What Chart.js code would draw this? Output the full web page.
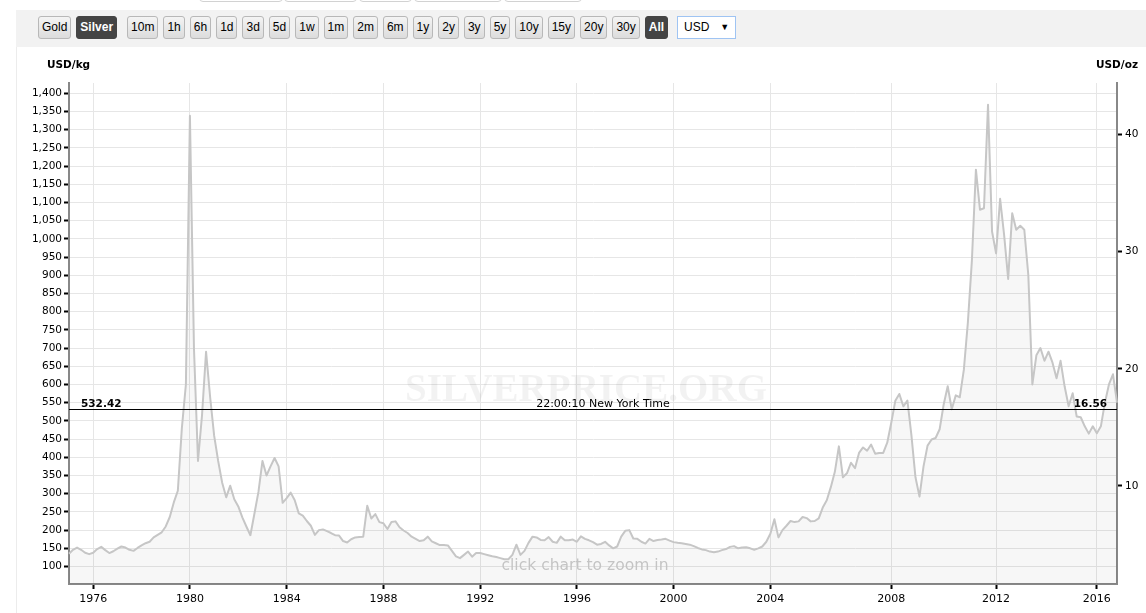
<!DOCTYPE html>
<html>
<head>
<meta charset="utf-8">
<script src="https://cdn.jsdelivr.net/npm/chart.js@4"></script>
<style>
html, body { margin: 0; padding: 0; background: #fff; }
body { width: 1146px; height: 613px; overflow: hidden; position: relative; font-family: "Liberation Sans", Arial, sans-serif; }
#chart { position: absolute; left: 0; top: 0; }
.tab { position: absolute; top: -20px; height: 22px; border: 1px solid #d2d2d2; border-radius: 4px; background: #fff; box-sizing: border-box; }
#bar { position: absolute; left: 16px; top: 10px; right: 0; height: 37px; background: #f2f2f2; }
#side { position: absolute; left: 16px; top: 47px; bottom: 0; width: 1px; background: #ececec; }
#buttons { position: absolute; left: 38px; top: 16px; display: flex; gap: 5px; }
.btn { height: 23px; box-sizing: border-box; padding: 0 3px; border: 1px solid #b8b8b8; border-radius: 3px;
       background: linear-gradient(#f4f4f4, #dcdcdc); font-size: 12px; line-height: 21px; color: #000; }
.btn.on { background: #444; border-color: #444; color: #fff; font-weight: bold; }
.gap { margin-right: 5px; }
#cur { margin-left: 4px; width: 59px; height: 23px; box-sizing: border-box; border: 1px solid #9fc4f3; background: #fff;
       font-size: 12px; line-height: 21px; padding-left: 6px; position: relative; color: #000; }
#cur span { position: absolute; right: 6px; top: 0; font-size: 9px; }
</style>
</head>
<body>
<canvas id="chart" width="1146" height="613"></canvas>
<div class="tab" style="left:199px;width:84px"></div>
<div class="tab" style="left:284px;width:73px"></div>
<div class="tab" style="left:359px;width:53px"></div>
<div class="tab" style="left:414px;width:88px"></div>
<div class="tab" style="left:504px;width:78px"></div>
<div id="bar"></div>
<div id="side"></div>
<div id="buttons">
  <div class="btn">Gold</div><div class="btn on gap">Silver</div>
  <div class="btn">10m</div><div class="btn">1h</div><div class="btn">6h</div><div class="btn">1d</div>
  <div class="btn">3d</div><div class="btn">5d</div><div class="btn">1w</div><div class="btn">1m</div>
  <div class="btn">2m</div><div class="btn">6m</div><div class="btn">1y</div><div class="btn">2y</div>
  <div class="btn">3y</div><div class="btn">5y</div><div class="btn">10y</div><div class="btn">15y</div>
  <div class="btn">20y</div><div class="btn">30y</div><div class="btn on">All</div>
  <div id="cur">USD<span>&#9660;</span></div>
</div>
<script>
// silver price, USD per kg; one row per year, number of samples per year follows the source feed
const firstYear = 1975;
const usdPerKgByYear = [
  [135, 146, 152, 146, 138, 134],          // 1975
  [138, 148, 154, 145, 137, 142],          // 1976
  [149, 155, 152, 146, 143, 151],          // 1977
  [158, 164, 168, 180, 187, 194],          // 1978
  [210, 236, 276, 308, 480, 600],          // 1979
  [1338, 700, 390, 515, 690, 567],         // 1980
  [460, 390, 330, 290, 322, 285],          // 1981
  [265, 235, 210, 186, 245, 305],          // 1982
  [390, 350, 375, 398, 375, 275],          // 1983
  [288, 303, 282, 246, 240, 225],          // 1984
  [212, 187, 200, 202, 197, 192],          // 1985
  [186, 185, 170, 166, 175, 180],          // 1986
  [181, 182, 267, 232, 244, 222],          // 1987
  [219, 203, 222, 224, 208, 199],          // 1988
  [192, 182, 176, 170, 172, 182],          // 1989
  [169, 164, 159, 159, 158, 143],          // 1990
  [128, 123, 132, 141, 127, 137],          // 1991
  [137, 134, 131, 128, 126, 123],          // 1992
  [120, 120, 132, 160, 132, 143],          // 1993
  [165, 182, 180, 173, 172, 181],          // 1994
  [168, 165, 182, 172, 172, 174],          // 1995
  [168, 183, 176, 172, 167, 160],          // 1996
  [162, 168, 158, 150, 155, 182],          // 1997
  [198, 200, 177, 176, 168, 163],          // 1998
  [176, 170, 173, 174, 176, 171],          // 1999
  [167, 165, 164, 162, 160, 156],          // 2000
  [151, 147, 145, 141, 139, 141],          // 2001
  [145, 148, 154, 156, 150, 152],          // 2002
  [153, 150, 146, 150, 155, 168],          // 2003
  [190, 230, 180, 200, 212, 225, 222, 224],// 2004
  [236, 233, 224, 225, 232, 262, 282],     // 2005
  [318, 360, 430, 345, 356, 385, 370, 412],// 2006
  [427, 418, 435, 410, 412, 412, 440],     // 2007
  [495, 555, 574, 540, 556, 460, 345],     // 2008
  [292, 375, 432, 449, 453, 477],          // 2009
  [545, 595, 532, 570, 565, 640, 770],     // 2010
  [940, 1190, 1080, 1084, 1368, 1020],     // 2011
  [960, 1110, 1010, 890, 1070, 1025, 1036],// 2012
  [1025, 900, 600, 680, 700, 665],         // 2013
  [690, 660, 617, 665, 595, 540],          // 2014
  [576, 512, 510, 485, 465, 485],          // 2015
  [466, 485, 550, 600, 628, 550]           // 2016
];
const yearTicks = [1976, 1980, 1984, 1988, 1992, 1996, 2000, 2004, 2008, 2012, 2016];
const kgTicks = [100, 150, 200, 250, 300, 350, 400, 450, 500, 550, 600, 650, 700, 750, 800,
                 850, 900, 950, 1000, 1050, 1100, 1150, 1200, 1250, 1300, 1350, 1400];
const ozTicks = [10, 20, 30, 40];
const ozPerKg = 32.1507;
const kgMin = 52, kgMax = 1428;
const spotPrice = 532.42;
const spotTime = "22:00:10 New York Time";
const watermark = "SILVERPRICE.ORG";
const zoomHint = "click chart to zoom in";

const labels = [], values = [], firstIndex = {};
usdPerKgByYear.forEach((row, k) => {
  const year = firstYear + k;
  firstIndex[year] = values.length;
  row.forEach(v => { labels.push(String(year)); values.push(v); });
});

Chart.defaults.font.family = "'DejaVu Sans', sans-serif";
Chart.defaults.color = "#000";

const overlay = {
  id: "overlay",
  beforeDatasetsDraw(chart) {
    const ctx = chart.ctx;
    ctx.save();
    ctx.font = "bold 41px 'Liberation Serif', serif";
    ctx.fillStyle = "rgba(0,0,0,0.05)";
    ctx.textAlign = "center";
    ctx.textBaseline = "alphabetic";
    ctx.fillText(watermark, 586, 401, 362);
    ctx.restore();
  },
  afterDatasetsDraw(chart) {
    const ctx = chart.ctx, a = chart.chartArea;
    const y = Math.round(chart.scales.y.getPixelForValue(spotPrice)) + 0.5;
    ctx.save();
    ctx.strokeStyle = "#000";
    ctx.lineWidth = 1;
    ctx.beginPath();
    ctx.moveTo(a.left, y);
    ctx.lineTo(a.right, y);
    ctx.stroke();
    ctx.fillStyle = "#000";
    ctx.textBaseline = "alphabetic";
    ctx.font = "bold 10.5px 'DejaVu Sans', sans-serif";
    ctx.textAlign = "left";
    ctx.fillText(spotPrice.toFixed(2), a.left + 12, y - 3);
    ctx.textAlign = "right";
    ctx.fillText((spotPrice / ozPerKg).toFixed(2), a.right - 10, y - 3);
    ctx.font = "11px 'DejaVu Sans', sans-serif";
    ctx.textAlign = "center";
    ctx.fillText(spotTime, 603, y - 3);
    ctx.font = "16px 'DejaVu Sans', sans-serif";
    ctx.fillStyle = "#c4c4c4";
    ctx.fillText(zoomHint, 585, 570, 167);
    ctx.restore();
  },
  afterDraw(chart) {
    const ctx = chart.ctx;
    ctx.save();
    ctx.fillStyle = "#000";
    ctx.font = "bold 10.5px 'DejaVu Sans', sans-serif";
    ctx.textBaseline = "alphabetic";
    ctx.textAlign = "left";
    ctx.fillText("USD/kg", 47, 68);
    ctx.textAlign = "right";
    ctx.fillText("USD/oz", 1138, 68);
    ctx.restore();
  }
};

new Chart(document.getElementById("chart").getContext("2d"), {
  type: "line",
  data: {
    labels: labels,
    datasets: [{
      data: values,
      borderColor: "#c6c6c6",
      borderWidth: 2,
      borderJoinStyle: "round",
      backgroundColor: "rgba(0,0,0,0.03)",
      fill: "start",
      pointRadius: 0,
      tension: 0
    }]
  },
  options: {
    responsive: false,
    animation: false,
    layout: { padding: { top: 83, left: 0, right: 0, bottom: 0 } },
    plugins: { legend: { display: false }, tooltip: { enabled: false } },
    scales: {
      x: {
        type: "category",
        offset: false,
        grid: { color: "#e6e6e6", lineWidth: 1, tickColor: "#000", tickLength: 5, tickWidth: 2, offset: false },
        border: { color: "#888", width: 2 },
        ticks: { autoSkip: false, maxRotation: 0, padding: 4, font: { size: 11 } },
        afterBuildTicks: s => { s.ticks = yearTicks.map(yr => ({ value: firstIndex[yr] })); },
        afterFit: s => { s.height = 29; }
      },
      y: {
        position: "left",
        min: kgMin,
        max: kgMax,
        grid: { color: "#e6e6e6", lineWidth: 1, tickColor: "#000", tickLength: 5, tickWidth: 2 },
        border: { color: "#888", width: 2 },
        ticks: { padding: 2, font: { size: 10.5 }, callback: v => v.toLocaleString("en-US") },
        afterBuildTicks: s => { s.ticks = kgTicks.map(v => ({ value: v })); },
        afterFit: s => { s.width = 69; }
      },
      y2: {
        position: "right",
        min: kgMin / ozPerKg,
        max: kgMax / ozPerKg,
        grid: { drawOnChartArea: false, tickColor: "#000", tickLength: 5, tickWidth: 2 },
        border: { color: "#888", width: 2 },
        ticks: { padding: 3, font: { size: 10.5 }, callback: v => String(v) },
        afterBuildTicks: s => { s.ticks = ozTicks.map(v => ({ value: v })); },
        afterFit: s => { s.width = 29; }
      }
    }
  },
  plugins: [overlay]
});
</script>
</body>
</html>
